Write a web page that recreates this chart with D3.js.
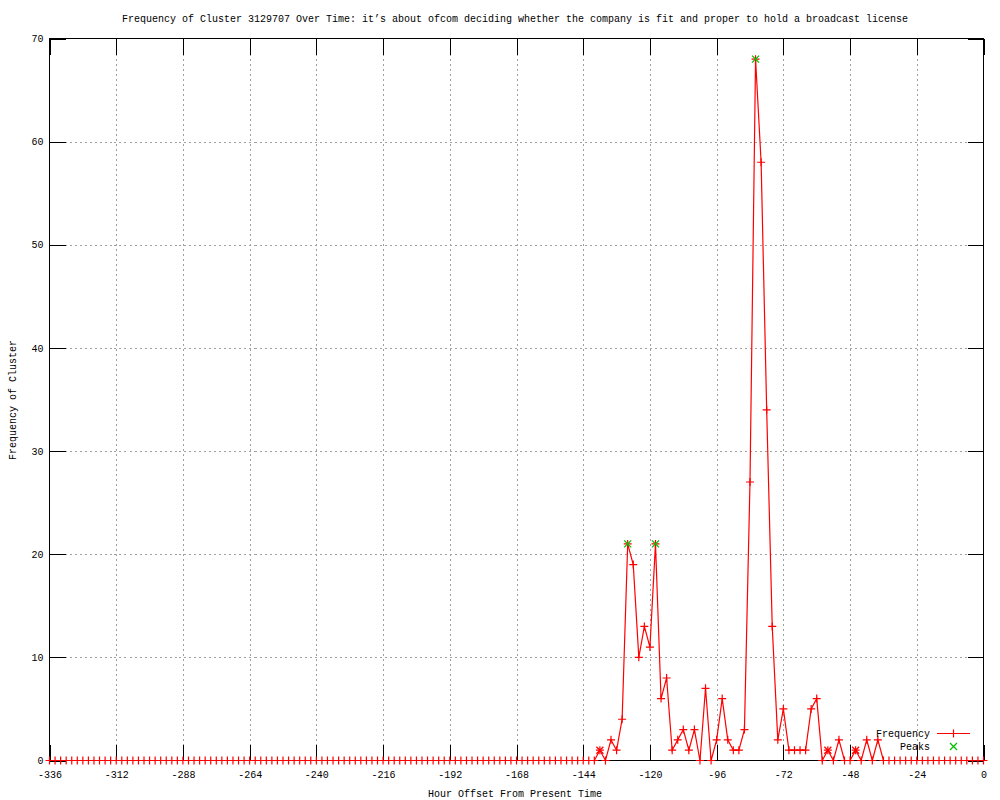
<!DOCTYPE html>
<html>
<head>
<meta charset="utf-8">
<script src="https://cdn.jsdelivr.net/npm/d3@7"></script>
<style>
  body { margin: 0; background: #fff; }
  svg text { font-family: "Liberation Mono", "DejaVu Sans Mono", monospace; font-size: 10px; fill: #000; }
</style>
</head>
<body>
<svg width="1000" height="800"></svg>
<script>
// hour offsets, one sample every 2 hours
const hours = [
  -336,-334,-332,-330,-328,-326,-324,-322,-320,-318,-316,-314,-312,-310,-308,-306,-304,-302,-300,-298,
  -296,-294,-292,-290,-288,-286,-284,-282,-280,-278,-276,-274,-272,-270,-268,-266,-264,-262,-260,-258,
  -256,-254,-252,-250,-248,-246,-244,-242,-240,-238,-236,-234,-232,-230,-228,-226,-224,-222,-220,-218,
  -216,-214,-212,-210,-208,-206,-204,-202,-200,-198,-196,-194,-192,-190,-188,-186,-184,-182,-180,-178,
  -176,-174,-172,-170,-168,-166,-164,-162,-160,-158,-156,-154,-152,-150,-148,-146,-144,-142,-140,-138,
  -136,-134,-132,-130,-128,-126,-124,-122,-120,-118,-116,-114,-112,-110,-108,-106,-104,-102,-100,-98,
  -96,-94,-92,-90,-88,-86,-84,-82,-80,-78,-76,-74,-72,-70,-68,-66,-64,-62,-60,-58,
  -56,-54,-52,-50,-48,-46,-44,-42,-40,-38,-36,-34,-32,-30,-28,-26,-24,-22,-20,-18,
  -16,-14,-12,-10,-8,-6,-4,-2,0
];
const frequency = [
  0,0,0,0,0,0,0,0,0,0,0,0,0,0,0,0,0,0,0,0,
  0,0,0,0,0,0,0,0,0,0,0,0,0,0,0,0,0,0,0,0,
  0,0,0,0,0,0,0,0,0,0,0,0,0,0,0,0,0,0,0,0,
  0,0,0,0,0,0,0,0,0,0,0,0,0,0,0,0,0,0,0,0,
  0,0,0,0,0,0,0,0,0,0,0,0,0,0,0,0,0,0,0,1,
  0,2,1,4,21,19,10,13,11,21,6,8,1,2,3,1,3,0,7,0,
  2,6,2,1,1,3,27,68,58,34,13,2,5,1,1,1,1,5,6,0,
  1,0,2,0,0,1,0,2,0,2,0,0,0,0,0,0,0,0,0,0,
  0,0,0,0,0,0,0,0,0
];
const peakHours = [-128, -118, -82];
const peakValues = [21, 21, 68];
const minorPeakHours = [-138, -56, -46];
const minorPeakValues = [1, 1, 1];

const xTicks = [-336, -312, -288, -264, -240, -216, -192, -168, -144, -120, -96, -72, -48, -24, 0];
const yTicks = [0, 10, 20, 30, 40, 50, 60, 70];

const pLeft = 49.5, pRight = 983.5, pTop = 38.5, pBottom = 760.5;
const svg = d3.select("svg");

const x = d3.scaleLinear().domain([-336, 0]).range([pLeft, pRight]);
const y = d3.scaleLinear().domain([0, 70]).range([pBottom, pTop]);

// grid
svg.append("g").selectAll("line")
  .data(xTicks.slice(1, -1))
  .enter().append("line")
  .attr("x1", d => Math.round(x(d)) + 0.5).attr("x2", d => Math.round(x(d)) + 0.5)
  .attr("y1", pTop).attr("y2", pBottom)
  .attr("stroke", "#a0a0a0").attr("stroke-dasharray", "2,3").attr("shape-rendering", "crispEdges");
svg.append("g").selectAll("line")
  .data(yTicks.slice(1, -1))
  .enter().append("line")
  .attr("x1", pLeft).attr("x2", pRight)
  .attr("y1", d => Math.round(y(d)) + 0.5).attr("y2", d => Math.round(y(d)) + 0.5)
  .attr("stroke", "#a0a0a0").attr("stroke-dasharray", "2,3").attr("shape-rendering", "crispEdges");

// axes, ticks pointing inward
const tick = 16;
const xAxis = svg.append("g").attr("transform", `translate(0,${pBottom})`)
  .call(d3.axisBottom(x).tickValues(xTicks).tickSize(-tick).tickPadding(6).tickFormat(d => String(d)));
const xTop = svg.append("g").attr("transform", `translate(0,${pTop})`)
  .call(d3.axisTop(x).tickValues(xTicks).tickSize(-tick).tickFormat(""));
const yAxis = svg.append("g").attr("transform", `translate(${pLeft},0)`)
  .call(d3.axisLeft(y).tickValues(yTicks).tickSize(-tick).tickPadding(6).tickFormat(d => String(d)));
const yRight = svg.append("g").attr("transform", `translate(${pRight},0)`)
  .call(d3.axisRight(y).tickValues(yTicks).tickSize(-tick).tickFormat(""));
[xAxis, xTop, yAxis, yRight].forEach(g => {
  g.select(".domain").remove();
  g.selectAll("line").attr("stroke", "#000").attr("shape-rendering", "crispEdges");
  g.selectAll("text").attr("font-family", null).attr("font-size", null);
});
xAxis.selectAll("text").attr("dy", "1.1em");

// border
svg.append("rect")
  .attr("x", pLeft).attr("y", pTop)
  .attr("width", pRight - pLeft).attr("height", pBottom - pTop)
  .attr("fill", "none").attr("stroke", "#000").attr("shape-rendering", "crispEdges");

// frequency line
const pts = hours.map((h, i) => ({ h: h, v: frequency[i] }));
svg.append("path")
  .datum(pts)
  .attr("fill", "none").attr("stroke", "#ff0000").attr("stroke-width", 1.2)
  .attr("d", d3.line().x(d => x(d.h)).y(d => y(d.v)));

function drawPlus(g, cx, cy, color) {
  g.append("path")
    .attr("d", `M${cx - 4},${cy}H${cx + 4}M${cx},${cy - 4}V${cy + 4}`)
    .attr("stroke", color).attr("stroke-width", 1.2).attr("fill", "none");
}
function drawX(g, cx, cy, color) {
  g.append("path")
    .attr("d", `M${cx - 3.5},${cy - 3.5}L${cx + 3.5},${cy + 3.5}M${cx - 3.5},${cy + 3.5}L${cx + 3.5},${cy - 3.5}`)
    .attr("stroke", color).attr("stroke-width", 1.3).attr("fill", "none");
}

const markers = svg.append("g");
pts.forEach(d => drawPlus(markers, x(d.h), y(d.v), "#ff0000"));
minorPeakHours.forEach((h, i) => drawX(markers, x(h), y(minorPeakValues[i]), "#ff0000"));
peakHours.forEach((h, i) => drawX(markers, x(h), y(peakValues[i]), "#00c000"));

// legend
const lg = svg.append("g");
lg.append("text").attr("x", 930).attr("y", 737).attr("text-anchor", "end").text("Frequency");
lg.append("line").attr("x1", 937).attr("x2", 970).attr("y1", 733.5).attr("y2", 733.5)
  .attr("stroke", "#ff0000").attr("stroke-width", 1.2);
drawPlus(lg, 953.5, 733.5, "#ff0000");
lg.append("text").attr("x", 930).attr("y", 750).attr("text-anchor", "end").text("Peaks");
drawX(lg, 953.5, 746.5, "#00c000");

// titles
svg.append("text").attr("x", 515).attr("y", 22).attr("text-anchor", "middle")
  .text("Frequency of Cluster 3129707 Over Time: it\u2019s about ofcom deciding whether the company is fit and proper to hold a broadcast license");
svg.append("text").attr("x", 515).attr("y", 797).attr("text-anchor", "middle")
  .text("Hour Offset From Present Time");
svg.append("text").attr("transform", "translate(16,400) rotate(-90)").attr("text-anchor", "middle")
  .text("Frequency of Cluster");
</script>
</body>
</html>
